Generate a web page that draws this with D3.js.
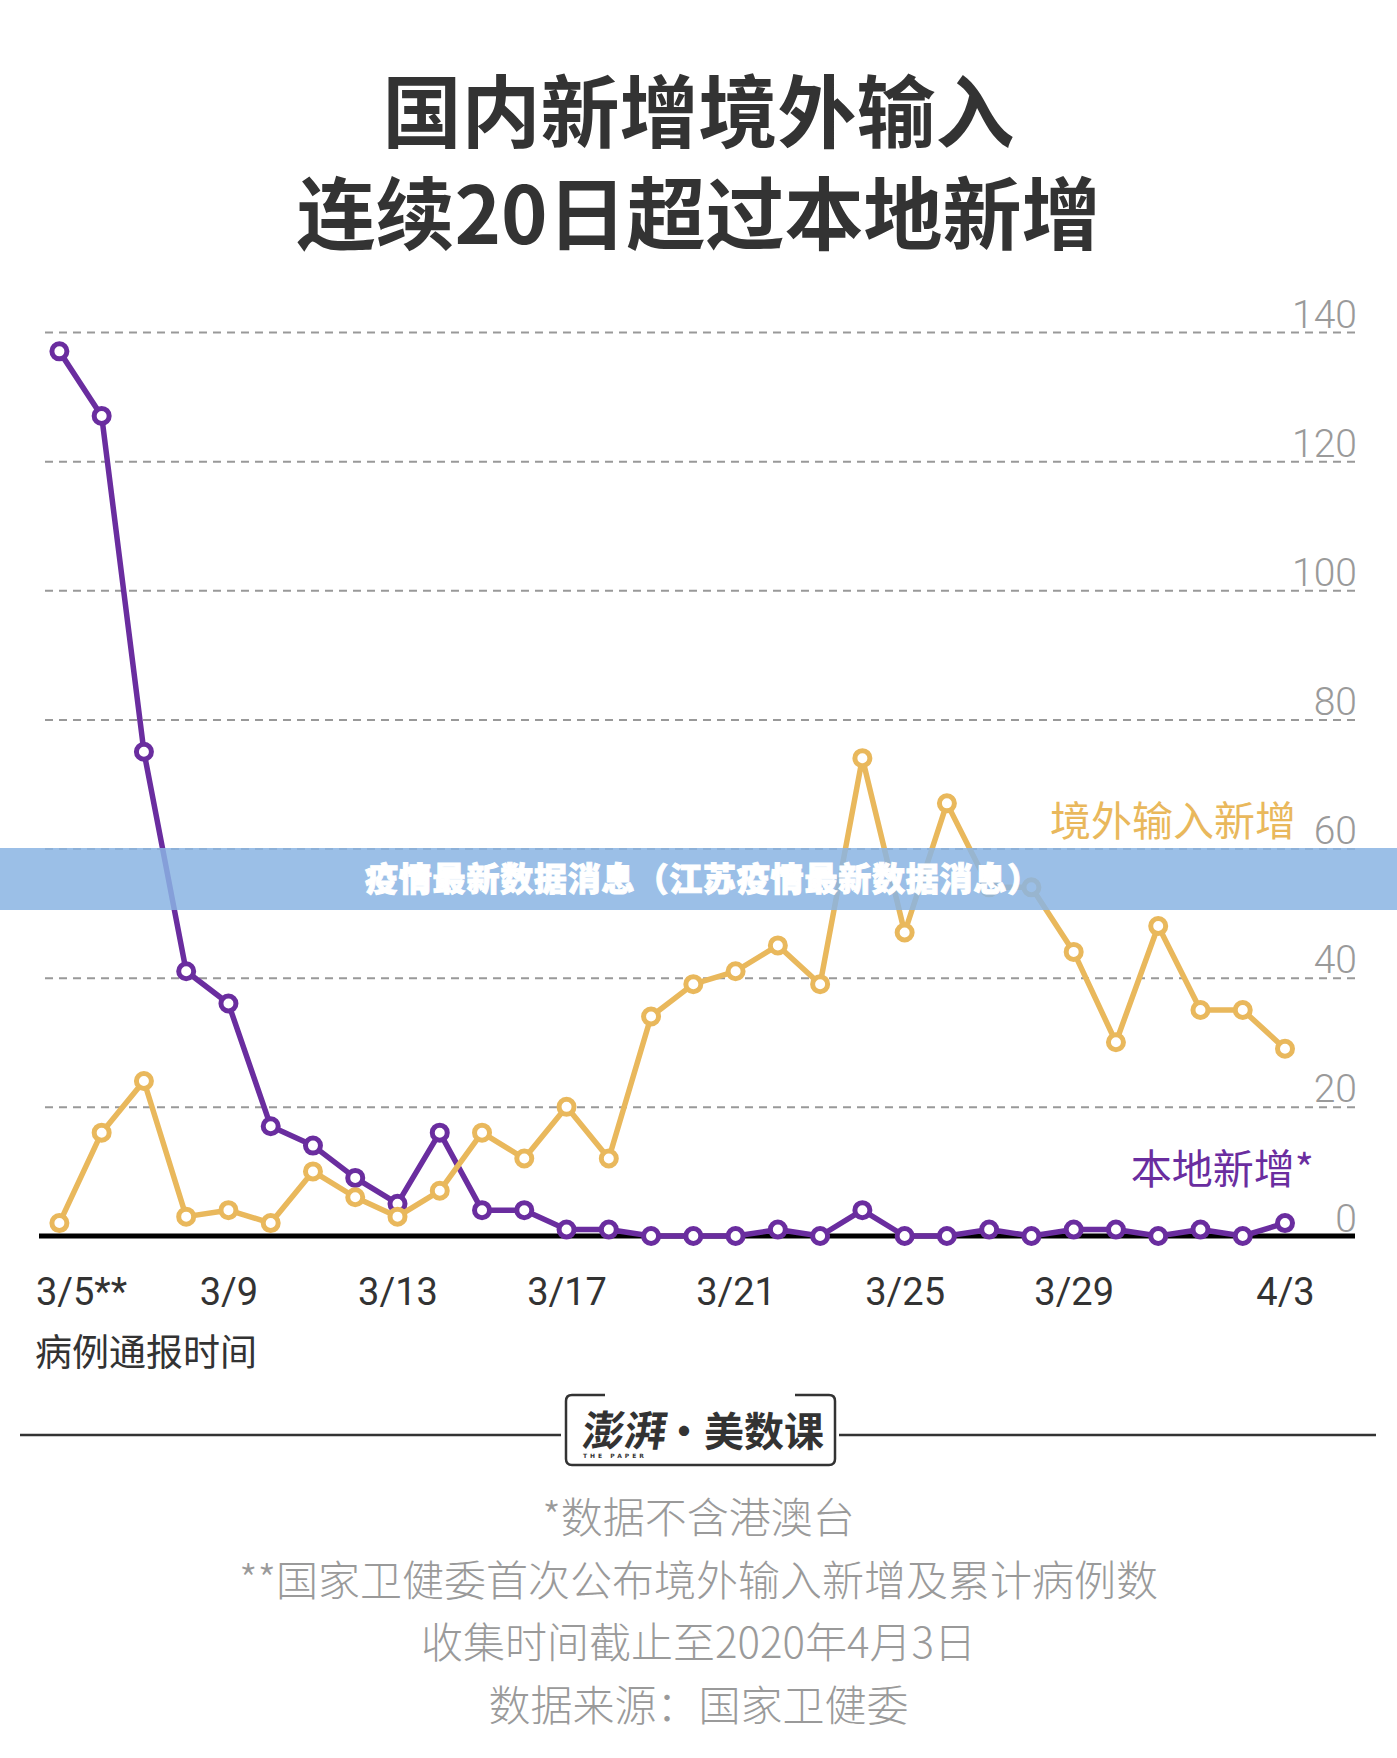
<!DOCTYPE html>
<html>
<head>
<meta charset="utf-8">
<script src="https://cdnjs.cloudflare.com/ajax/libs/d3/7.8.5/d3.min.js"></script>
<style>
body { margin: 0; background: #fff; }
svg { display: block; }
</style>
</head>
<body>
<svg id="chart" width="1397" height="1758"></svg>
<script>
// daily report dates
var dates = ["3/5","3/6","3/7","3/8","3/9","3/10","3/11","3/12","3/13","3/14",
             "3/15","3/16","3/17","3/18","3/19","3/20","3/21","3/22","3/23","3/24",
             "3/25","3/26","3/27","3/28","3/29","3/30","3/31","4/1","4/2","4/3"];

// 本地新增
var localCases = [137,127,75,41,36,17,14,9,5,16,4,4,1,1,0,0,0,1,0,4,0,0,1,0,1,1,0,1,0,2];
// 境外输入新增
var importedCases = [2,16,24,3,4,2,10,6,3,7,16,12,20,12,34,39,41,45,39,74,47,67,54,54,44,30,48,35,35,29];

var tickDates  = ["3/5","3/9","3/13","3/17","3/21","3/25","3/29","4/3"];
var tickLabels = ["3/5**","3/9","3/13","3/17","3/21","3/25","3/29","4/3"];
var yTicks = [0,20,40,60,80,100,120,140];

var titleLines = ["国内新增境外输入", "连续20日超过本地新增"];
var notes = ["*数据不含港澳台",
             "**国家卫健委首次公布境外输入新增及累计病例数",
             "收集时间截止至2020年4月3日",
             "数据来源：国家卫健委"];

var svg = d3.select("#chart");
var W = 1397;

var purple = "#6a2d9f",
    orange = "#e9b85c";

var cjk = "'Noto Sans CJK SC', 'Noto Sans', sans-serif";
var num = "Roboto, 'Noto Sans CJK SC', sans-serif";

// title (two lines in one text block)
var title = svg.append("text")
    .attr("x", W / 2)
    .attr("y", 142)
    .attr("text-anchor", "middle")
    .style("font-family", cjk)
    .style("font-weight", 700)
    .style("font-size", "79px")
    .style("fill", "#333");
title.selectAll("tspan")
    .data(titleLines)
    .enter()
    .append("tspan")
    .attr("x", W / 2)
    .attr("dy", function(d, i) { return i == 0 ? 0 : 102; })
    .text(function(d) { return d; });

// scales
var gridLeft = 41, gridRight = 1355;
var x = d3.scalePoint()
    .domain(dates)
    .range([59.4, 1285]);
var y = d3.scaleLinear()
    .domain([0, 140])
    .range([1236, 332]);

// grid + y labels
var yAxis = d3.axisLeft(y)
    .tickValues(yTicks)
    .tickSize(gridRight - gridLeft)
    .tickFormat(d3.format("d"));

var gy = svg.append("g")
    .attr("transform", "translate(" + gridRight + ",0)")
    .call(yAxis);
gy.select(".domain").remove();
gy.selectAll(".tick line")
    .attr("stroke", "#999")
    .attr("stroke-width", 2)
    .attr("stroke-dasharray", "8,6");
gy.selectAll(".tick text")
    .attr("x", 2)
    .attr("y", -5)
    .attr("dy", null)
    .attr("text-anchor", "end")
    .style("font-family", num)
    .style("font-weight", 300)
    .style("font-size", "39px")
    .style("fill", "#9a9a9a");

// zero line
svg.append("line")
    .attr("x1", 39)
    .attr("x2", gridRight)
    .attr("y1", y(0))
    .attr("y2", y(0))
    .attr("stroke", "#000")
    .attr("stroke-width", 5);

// x labels
var xAxis = d3.axisBottom(x)
    .tickValues(tickDates)
    .tickSize(0)
    .tickFormat(function(d) { return tickLabels[tickDates.indexOf(d)]; });

var gx = svg.append("g")
    .attr("transform", "translate(0,1305)")
    .call(xAxis);
gx.select(".domain").remove();
gx.selectAll(".tick text")
    .attr("y", 0)
    .attr("dy", null)
    .attr("x", function(d, i) { return i == 0 ? -24 : 0; })
    .attr("text-anchor", function(d, i) { return i == 0 ? "start" : "middle"; })
    .style("font-family", num)
    .style("font-size", "38px")
    .style("fill", "#333");

svg.append("text")
    .attr("x", 35)
    .attr("y", 1366)
    .style("font-family", cjk)
    .style("font-size", "37px")
    .style("fill", "#333")
    .text("病例通报时间");

// series
var line = d3.line()
    .x(function(d, i) { return x(dates[i]); })
    .y(function(d) { return y(d); });

function drawSeries(values, color) {
    svg.append("path")
        .datum(values)
        .attr("d", line)
        .attr("fill", "none")
        .attr("stroke", color)
        .attr("stroke-width", 5.5)
        .attr("stroke-linejoin", "round");

    svg.append("g")
        .selectAll("circle")
        .data(values)
        .enter()
        .append("circle")
        .attr("cx", function(d, i) { return x(dates[i]); })
        .attr("cy", function(d) { return y(d); })
        .attr("r", 7.5)
        .attr("fill", "#fff")
        .attr("stroke", color)
        .attr("stroke-width", 5);
}

drawSeries(localCases, purple);
drawSeries(importedCases, orange);

// series labels
svg.append("text")
    .attr("x", 1296)
    .attr("y", 836)
    .attr("text-anchor", "end")
    .style("font-family", cjk)
    .style("font-size", "41px")
    .style("fill", orange)
    .text("境外输入新增");

svg.append("text")
    .attr("x", 1314)
    .attr("y", 1184)
    .attr("text-anchor", "end")
    .style("font-family", cjk)
    .style("font-size", "41px")
    .style("fill", purple)
    .text("本地新增*");

// overlay banner
svg.append("rect")
    .attr("x", 0)
    .attr("y", 848)
    .attr("width", W)
    .attr("height", 62)
    .attr("fill", "#8ab4e3")
    .attr("opacity", 0.85);

svg.append("text")
    .attr("x", 703)
    .attr("y", 891)
    .attr("text-anchor", "middle")
    .style("font-family", cjk)
    .style("font-weight", 900)
    .style("font-size", "33px")
    .style("letter-spacing", "0.8px")
    .style("fill", "#fff")
    .style("stroke", "#fff")
    .style("stroke-width", 1)
    .text("疫情最新数据消息（江苏疫情最新数据消息）");

// logo rule
var logo = svg.append("g");
logo.append("line")
    .attr("x1", 20).attr("x2", 561)
    .attr("y1", 1435).attr("y2", 1435)
    .attr("stroke", "#333").attr("stroke-width", 2.5);
logo.append("line")
    .attr("x1", 839).attr("x2", 1376)
    .attr("y1", 1435).attr("y2", 1435)
    .attr("stroke", "#333").attr("stroke-width", 2.5);
logo.append("path")
    .attr("d", "M605,1395 H572 Q566,1395 566,1401 V1459 Q566,1465 572,1465 H829 Q835,1465 835,1459 V1401 Q835,1395 829,1395 H795")
    .attr("fill", "none")
    .attr("stroke", "#333")
    .attr("stroke-width", 2.5);
logo.append("text")
    .attr("x", 579)
    .attr("y", 1446)
    .attr("transform", "skewX(-8) translate(205,0)")
    .style("font-family", cjk)
    .style("font-weight", 700)
    .style("font-size", "42px")
    .style("fill", "#333")
    .text("澎湃");
logo.append("text")
    .attr("x", 583)
    .attr("y", 1458)
    .style("font-family", "'DejaVu Sans', sans-serif")
    .style("font-weight", 700)
    .style("font-size", "6px")
    .style("letter-spacing", "3px")
    .style("fill", "#333")
    .text("THE PAPER");
logo.append("text")
    .attr("x", 664)
    .attr("y", 1446)
    .style("font-family", cjk)
    .style("font-weight", 700)
    .style("font-size", "40px")
    .style("fill", "#333")
    .text("·美数课");

// notes
svg.selectAll(".note")
    .data(notes)
    .enter()
    .append("text")
    .attr("x", W / 2)
    .attr("y", function(d, i) { return 1533 + i * 62.5; })
    .attr("text-anchor", "middle")
    .style("font-family", cjk)
    .style("font-weight", 300)
    .style("font-size", "42px")
    .style("fill", "#9a9a9a")
    .text(function(d) { return d; });
</script>
</body>
</html>
